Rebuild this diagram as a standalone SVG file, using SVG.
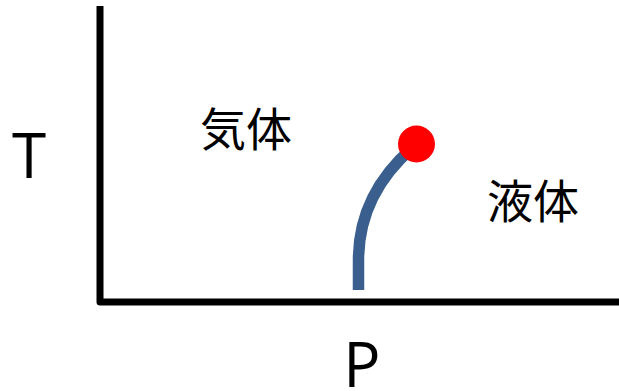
<svg xmlns="http://www.w3.org/2000/svg" width="619" height="391" viewBox="0 0 619 391">
<style>
.lbl{font-family:"Open Sans","Liberation Sans",sans-serif;font-size:62px;fill:#000}
.cjk{font-family:"Noto Sans CJK JP",sans-serif;font-size:46px;fill:#000}
</style>
<rect width="619" height="391" fill="#fff"/>
<g id="axes">
<polyline points="100,6 100,302 619,302" fill="none" stroke="#000" stroke-width="7" stroke-linejoin="round"/>
</g>
<g id="label-T"><text class="lbl" x="29" y="178" text-anchor="middle">T</text></g>
<g id="label-P"><text class="lbl" x="362" y="387" text-anchor="middle">P</text></g>
<g id="gas"><text class="cjk" x="246" y="146" text-anchor="middle">気体</text></g>
<g id="liquid"><text class="cjk" x="533" y="218" text-anchor="middle">液体</text></g>
<g id="connectors">
<path d="M358.5,290 L358.5,260 Q358.5,195 412,148" fill="none" stroke="#3A5F8F" stroke-width="11.5"/>
</g>
<g id="critical-point"><circle cx="416.5" cy="144" r="18.5" fill="#FF0000"/></g>
</svg>
